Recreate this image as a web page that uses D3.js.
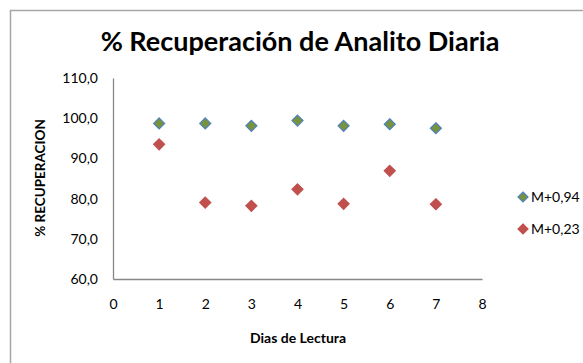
<!DOCTYPE html>
<html><head><meta charset="utf-8">
<script src="https://cdn.jsdelivr.net/npm/d3@7"></script>
<style>body{margin:0;background:#fff}svg{display:block;font-family:Lato,"Open Sans",sans-serif}</style>
</head><body>
<svg id="c" width="583" height="363"></svg>
<script>
const days = [1,2,3,4,5,6,7];
const seriesNames = ["M+0,94","M+0,23"];
const serieA = [98.7,98.7,98.1,99.4,98.1,98.5,97.5];
const serieB = [93.5,79.0,78.2,82.3,78.7,86.9,78.6];
const yTicks = [60,70,80,90,100,110];
const xTicks = [0,1,2,3,4,5,6,7,8];

const svg = d3.select("#c");
svg.append("rect").attr("x",10.5).attr("y",10.5).attr("width",600).attr("height",400)
  .attr("fill","#fff").attr("stroke","#a6a6a6").attr("stroke-width",1.5);

const x = d3.scaleLinear().domain([0,8]).range([113,482]);
const y = d3.scaleLinear().domain([60,110]).range([279,78]);

const fmt = d => d.toFixed(1).replace(".",",");
const yAx = svg.append("g").attr("transform","translate(113,0)")
  .call(d3.axisLeft(y).tickValues(yTicks).tickFormat(fmt).tickSize(0).tickPadding(15));
const xAx = svg.append("g").attr("transform","translate(0,279)")
  .call(d3.axisBottom(x).tickValues(xTicks).tickFormat(d3.format("d")).tickSize(0).tickPadding(20));
[yAx,xAx].forEach(g=>{
  g.select(".domain").attr("stroke","#868686").attr("stroke-width",1.3);
  g.selectAll("text").attr("font-size",14).attr("fill","#000").attr("font-family","Lato,'Open Sans',sans-serif");
});

const title = svg.append("text").attr("x",300).attr("y",51).attr("text-anchor","middle")
  .attr("font-size",26).attr("font-weight","bold").text("% Recuperación de Analito Diaria");
const tw = title.node().getComputedTextLength();
title.attr("font-size", 26*399/tw);

svg.append("text").attr("x",298).attr("y",343).attr("text-anchor","middle")
  .attr("font-size",14).attr("font-weight","bold").text("Dias de Lectura");
svg.append("text").attr("transform","translate(45,178) rotate(-90)").attr("text-anchor","middle")
  .attr("font-size",13.5).attr("font-weight","bold").text("% RECUPERACION");

const diamondPath = (r) => `M0,${-r}L${r},0L0,${r}L${-r},0Z`;

const styles = [{fill:"#77933c",stroke:"#4f81bd"},{fill:"#c0504d",stroke:"#c0504d"}];
const all = [serieA, serieB];
all.forEach((vals,i)=>{
  svg.append("g").selectAll("path").data(vals).join("path")
    .attr("d",diamondPath(5.5))
    .attr("transform",(d,j)=>`translate(${x(days[j])},${y(d)})`)
    .attr("fill",styles[i].fill).attr("stroke",styles[i].stroke).attr("stroke-width",1.2);
});

const leg = svg.append("g");
seriesNames.forEach((n,i)=>{
  const ly = 197 + i*32;
  leg.append("path").attr("d",diamondPath(5)).attr("transform",`translate(523,${ly})`)
    .attr("fill",styles[i].fill).attr("stroke",styles[i].stroke).attr("stroke-width",1.2);
  leg.append("text").attr("x",531).attr("y",ly+5).attr("font-size",14).text(n);
});
</script>
</body></html>
